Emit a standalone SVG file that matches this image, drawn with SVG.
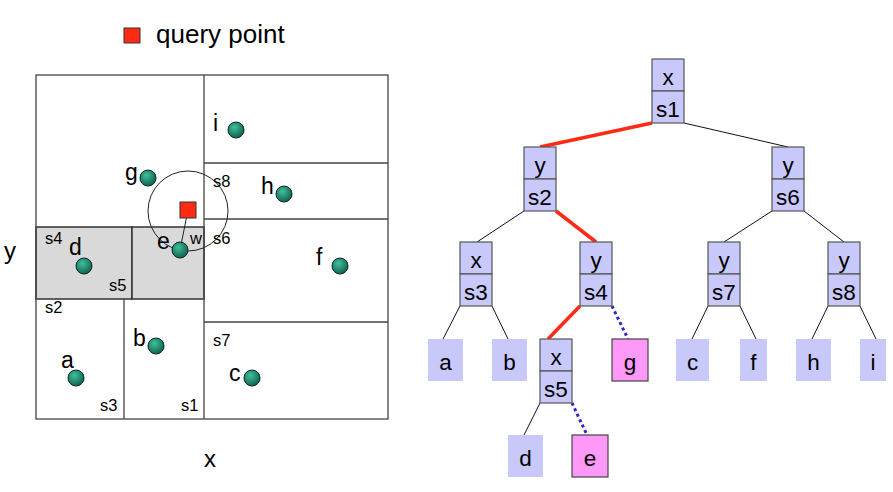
<svg xmlns="http://www.w3.org/2000/svg" width="893" height="492" viewBox="0 0 893 492">
<style>
text{font-family:"Liberation Sans",Arial,sans-serif;fill:#000}
.big{font-size:24px}
.lg{font-size:26px}
.pl{font-size:23px}
.sm{font-size:16.5px}
.cell{fill:none;stroke:#444;stroke-width:1.3}
.gray{fill:#d9d9d9;stroke:#333;stroke-width:1.5}
.pt{fill:url(#sph);stroke:#123;stroke-width:1}
.nd{fill:#c8c8fa;stroke:#555;stroke-width:1.2}
.lf{fill:#c8c8fa}
.pk{fill:#ff99f8;stroke:#444;stroke-width:1.2}
.nt{font-size:22.5px;text-anchor:middle}
.e{stroke:#111;stroke-width:1;fill:none}
.r{stroke:#ff2a14;stroke-width:3.5;fill:none}
.b{stroke:#2a2acc;stroke-width:3;stroke-dasharray:3 3;fill:none}
</style>
<defs>
<radialGradient id="sph" cx="0.4" cy="0.35" r="0.7">
<stop offset="0" stop-color="#40c09a"/>
<stop offset="1" stop-color="#0b5e48"/>
</radialGradient>
</defs>
<g id="legend">
<rect x="124" y="28" width="16" height="15" fill="#ff2a14" stroke="#333" stroke-width="1"/>
<text x="156" y="43" class="lg">query point</text>
</g>
<g id="space">
<rect x="36" y="227" width="96" height="72" class="gray"/>
<rect x="132" y="227" width="72" height="72" class="gray"/>
<rect x="36" y="75" width="352" height="344" class="cell"/>
<line x1="204" y1="75" x2="204" y2="419" class="cell"/>
<line x1="204" y1="163" x2="388" y2="163" class="cell"/>
<line x1="204" y1="219" x2="388" y2="219" class="cell"/>
<line x1="204" y1="322" x2="388" y2="322" class="cell"/>
<line x1="124" y1="299" x2="124" y2="419" class="cell"/>
<circle cx="188" cy="211" r="40" fill="none" stroke="#222" stroke-width="1"/>
<line x1="188" y1="210" x2="180" y2="250" stroke="#222" stroke-width="1"/>
<rect x="180" y="202" width="16" height="16" fill="#ff2a14" stroke="#333" stroke-width="1"/>
<circle cx="236" cy="130" r="8" class="pt"/>
<circle cx="148" cy="178" r="8" class="pt"/>
<circle cx="284" cy="194" r="8" class="pt"/>
<circle cx="180" cy="250" r="8" class="pt"/>
<circle cx="84" cy="266" r="8" class="pt"/>
<circle cx="340" cy="266" r="8" class="pt"/>
<circle cx="156" cy="346" r="8" class="pt"/>
<circle cx="76" cy="378" r="8" class="pt"/>
<circle cx="252" cy="378" r="8" class="pt"/>
<text x="213" y="131" class="pl">i</text>
<text x="125" y="180" class="pl">g</text>
<text x="261" y="194" class="pl">h</text>
<text x="157" y="249" class="pl">e</text>
<text x="69" y="255" class="pl">d</text>
<text x="316" y="265" class="pl">f</text>
<text x="133" y="346" class="pl">b</text>
<text x="61" y="368" class="pl">a</text>
<text x="229" y="381" class="pl">c</text>
<text x="213" y="187" class="sm">s8</text>
<text x="213" y="244" class="sm">s6</text>
<text x="190" y="244" class="sm">w</text>
<text x="45" y="244" class="sm">s4</text>
<text x="109" y="291" class="sm">s5</text>
<text x="45" y="313" class="sm">s2</text>
<text x="213" y="346" class="sm">s7</text>
<text x="100" y="411" class="sm">s3</text>
<text x="181" y="411" class="sm">s1</text>
<text x="4" y="259" class="big">y</text>
<text x="204" y="467" class="big">x</text>
</g>
<g id="connectors">
<line x1="652" y1="123" x2="540" y2="147" class="r"/>
<line x1="684" y1="123" x2="788" y2="147" class="e"/>
<line x1="524" y1="211" x2="477" y2="242" class="e"/>
<line x1="556" y1="211" x2="596" y2="242" class="r"/>
<line x1="772" y1="211" x2="724" y2="242" class="e"/>
<line x1="804" y1="211" x2="844" y2="242" class="e"/>
<line x1="460" y1="306" x2="443" y2="339" class="e"/>
<line x1="492" y1="306" x2="508" y2="339" class="e"/>
<line x1="580" y1="306" x2="548" y2="339" class="r"/>
<line x1="612" y1="306" x2="628" y2="339" class="b"/>
<line x1="708" y1="306" x2="692" y2="339" class="e"/>
<line x1="740" y1="306" x2="756" y2="339" class="e"/>
<line x1="828" y1="306" x2="812" y2="339" class="e"/>
<line x1="860" y1="306" x2="876" y2="339" class="e"/>
<line x1="540" y1="403" x2="524" y2="435" class="e"/>
<line x1="572" y1="403" x2="587" y2="435" class="b"/>
</g>
<g id="n-s1"><rect x="652" y="59" width="32" height="32" class="nd"/><rect x="652" y="91" width="32" height="32" class="nd"/><text x="668" y="85" class="nt">x</text><text x="668" y="117" class="nt">s1</text></g>
<g id="n-s2"><rect x="524" y="147" width="32" height="32" class="nd"/><rect x="524" y="179" width="32" height="32" class="nd"/><text x="540" y="173" class="nt">y</text><text x="540" y="205" class="nt">s2</text></g>
<g id="n-s6"><rect x="772" y="147" width="32" height="32" class="nd"/><rect x="772" y="179" width="32" height="32" class="nd"/><text x="788" y="173" class="nt">y</text><text x="788" y="205" class="nt">s6</text></g>
<g id="n-s3"><rect x="460" y="242" width="32" height="32" class="nd"/><rect x="460" y="274" width="32" height="32" class="nd"/><text x="476" y="268" class="nt">x</text><text x="476" y="300" class="nt">s3</text></g>
<g id="n-s4"><rect x="580" y="242" width="32" height="32" class="nd"/><rect x="580" y="274" width="32" height="32" class="nd"/><text x="596" y="268" class="nt">y</text><text x="596" y="300" class="nt">s4</text></g>
<g id="n-s7"><rect x="708" y="242" width="32" height="32" class="nd"/><rect x="708" y="274" width="32" height="32" class="nd"/><text x="724" y="268" class="nt">y</text><text x="724" y="300" class="nt">s7</text></g>
<g id="n-s8"><rect x="828" y="242" width="32" height="32" class="nd"/><rect x="828" y="274" width="32" height="32" class="nd"/><text x="844" y="268" class="nt">y</text><text x="844" y="300" class="nt">s8</text></g>
<g id="n-s5"><rect x="540" y="339" width="32" height="32" class="nd"/><rect x="540" y="371" width="32" height="32" class="nd"/><text x="556" y="365" class="nt">x</text><text x="556" y="397" class="nt">s5</text></g>
<g id="l-a"><rect x="428" y="339" width="35" height="42" class="lf"/><text x="445.5" y="370" class="nt">a</text></g>
<g id="l-b"><rect x="492" y="339" width="35" height="42" class="lf"/><text x="509.5" y="370" class="nt">b</text></g>
<g id="l-g"><rect x="612" y="339" width="36" height="42" class="pk"/><text x="630" y="370" class="nt">g</text></g>
<g id="l-c"><rect x="676" y="339" width="33" height="42" class="lf"/><text x="692.5" y="370" class="nt">c</text></g>
<g id="l-f"><rect x="740" y="339" width="27" height="42" class="lf"/><text x="753.5" y="370" class="nt">f</text></g>
<g id="l-h"><rect x="796" y="339" width="35" height="42" class="lf"/><text x="813.5" y="370" class="nt">h</text></g>
<g id="l-i"><rect x="860" y="339" width="26" height="42" class="lf"/><text x="873" y="370" class="nt">i</text></g>
<g id="l-d"><rect x="508" y="435" width="35" height="42" class="lf"/><text x="525.5" y="466" class="nt">d</text></g>
<g id="l-e"><rect x="572" y="435" width="36" height="42" class="pk"/><text x="590" y="466" class="nt">e</text></g>
</svg>
